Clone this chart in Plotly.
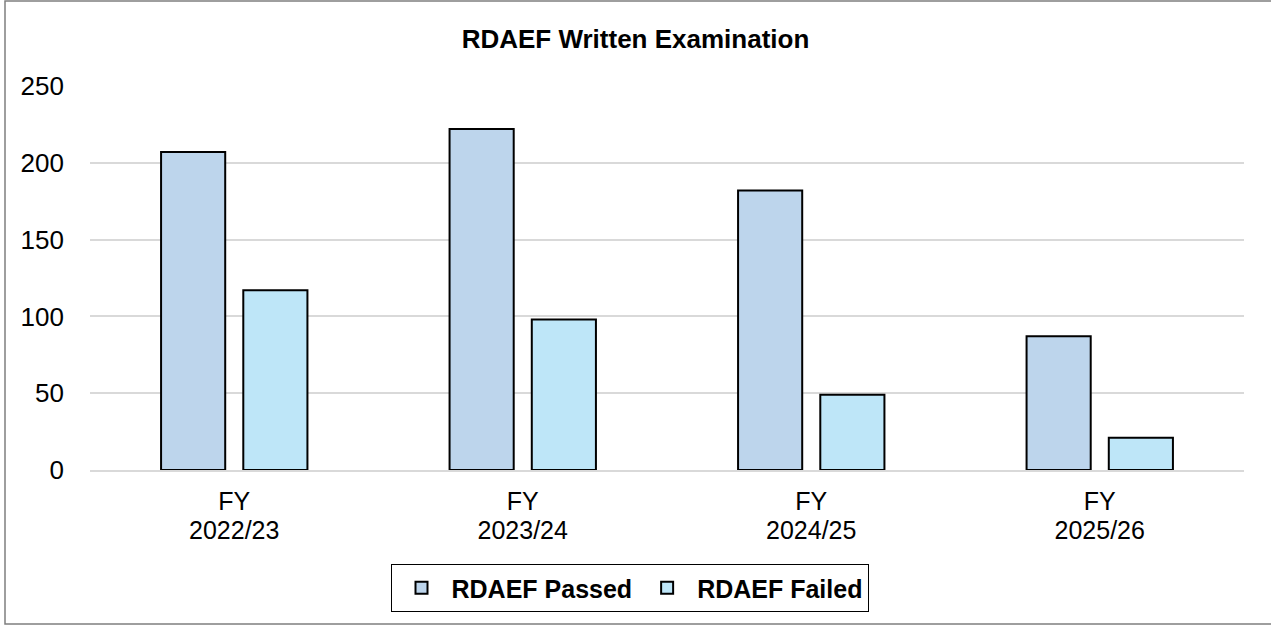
import plotly.graph_objects as go

categories = ["FY 2022/23", "FY 2023/24", "FY 2024/25", "FY 2025/26"]
passed = [207, 222, 182, 87]
failed = [117, 98, 49, 21]
series_names = ["RDAEF Passed", "RDAEF Failed"]
y_ticks = [0, 50, 100, 150, 200, 250]

W, H = 1271, 626
ml, mr, mt, mb = 90, 27, 86, 156
pw, ph = W - ml - mr, H - mt - mb

def px_x(p):
    return (p - ml) / pw

def px_y(p):
    return (H - mb - p) / ph

big = "<span style='font-size:25px'>{}</span>"
tick_text = ["<br>".join(big.format(part) for part in c.split(" ", 1)) for c in categories]

fig = go.Figure()
fig.add_trace(go.Bar(x=categories, y=passed, name=series_names[0],
                     marker=dict(color="#BDD5EC", line=dict(color="black", width=2))))
fig.add_trace(go.Bar(x=categories, y=failed, name=series_names[1],
                     marker=dict(color="#BEE6F8", line=dict(color="black", width=2))))

fig.update_layout(
    width=W, height=H,
    margin=dict(l=ml, r=mr, t=mt, b=mb),
    paper_bgcolor="white", plot_bgcolor="white",
    barmode="group", bargap=0.43, bargroupgap=0.22,
    font=dict(family="Arial, Liberation Sans", color="black", size=18),
    title=dict(text="<b>RDAEF Written Examination</b>", x=0.5, xref="container", xanchor="center",
               y=1 - 39 / H, yref="container", yanchor="middle",
               font=dict(size=26, color="black", family="Arial, Liberation Sans")),
    showlegend=True,
    legend=dict(orientation="h", x=px_x(629.5), xanchor="center", y=px_y(564), yanchor="top",
                bordercolor="black", borderwidth=1,
                font=dict(size=25, color="black", family="Arial, Liberation Sans", weight="bold"),
                itemwidth=50, tracegroupgap=0),
    xaxis=dict(showgrid=False, showline=True, linecolor="#d9d9d9", linewidth=2,
               tickmode="array", tickvals=categories, ticktext=tick_text,
               ticks="", ticklabelstandoff=12, tickfont=dict(size=22)),
    yaxis=dict(range=[0, 250], tickvals=y_ticks, showgrid=True, gridcolor="#d9d9d9", gridwidth=2,
               zeroline=False, showline=False, ticks="", ticklabelstandoff=25,
               tickfont=dict(size=26)),
    shapes=[dict(type="rect", xref="paper", yref="paper",
                 x0=px_x(5), x1=px_x(1273), y0=px_y(624), y1=px_y(1),
                 line=dict(color="#7f7f7f", width=1.5), fillcolor="rgba(0,0,0,0)", layer="below")],
)

fig.write_html("out.html", config={"displayModeBar": False},
               post_script="document.body.style.margin='0px';")
